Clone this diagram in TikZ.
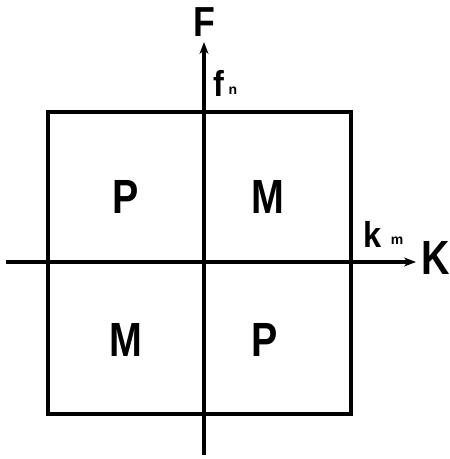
\documentclass[tikz,border=0pt]{standalone}
\usepackage{fontspec}
\setmainfont{Liberation Sans}
\usetikzlibrary{arrows.meta}
\begin{document}
\begin{tikzpicture}[x=1pt,y=-1pt,
  axis/.style={line width=3.4pt,-{Stealth[length=12pt,width=9pt]}},
  frame/.style={line width=3.4pt},
  big/.style={inner sep=0pt,font=\bfseries\fontsize{48}{48}\selectfont,xscale=0.82,transform shape},
  mid/.style={inner sep=0pt,font=\bfseries\fontsize{42}{42}\selectfont,xscale=0.85,transform shape},
  lab/.style={inner sep=0pt,font=\bfseries\fontsize{36}{36}\selectfont,xscale=0.9,transform shape},
  sub/.style={inner sep=0pt,font=\bfseries\fontsize{14}{14}\selectfont}]
\useasboundingbox (0,0) rectangle (450,459);
\draw[frame] (48,112) rectangle (351,414);
\coordinate (vb) at (204,455);
\coordinate (vt) at (204,42);
\coordinate (hl) at (6,262);
\coordinate (hr) at (416,262);
\draw[axis] (vb) -- (vt);
\draw[axis] (hl) -- (hr);
\node[mid] (F) at (204,22) {F};
\node[lab] (f) at (219,83) {f};
\node[sub] (n) at (233,91) {n};
\node[lab] (k) at (373,234) {k};
\node[sub] (m) at (397,241) {m};
\node[big] (K) at (436,258) {K};
\node[big] (P1) at (126,197) {P};
\node[big] (M1) at (268,197) {M};
\node[big] (M2) at (126,340) {M};
\node[big] (P2) at (265,340) {P};
\end{tikzpicture}
\end{document}
